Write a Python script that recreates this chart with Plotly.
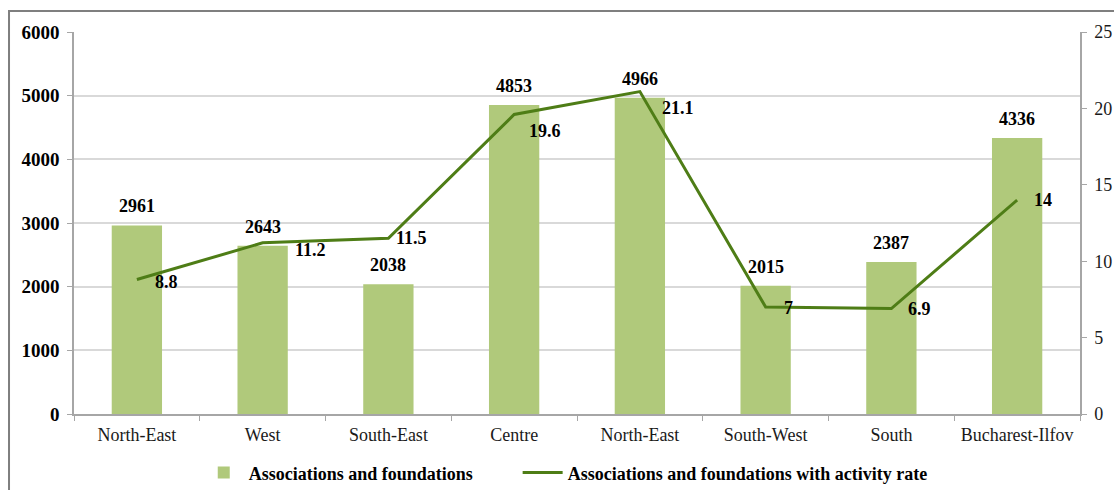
import plotly.graph_objects as go

regions = ["North-East", "West", "South-East", "Centre", "North-East ", "South-West", "South", "Bucharest-Ilfov"]
tick_labels = ["North-East", "West", "South-East", "Centre", "North-East", "South-West", "South", "Bucharest-Ilfov"]
associations = [2961, 2643, 2038, 4853, 4966, 2015, 2387, 4336]
activity_rate = [8.8, 11.2, 11.5, 19.6, 21.1, 7, 6.9, 14]
rate_labels = ["8.8", "11.2", "11.5", "19.6", "21.1", "7", "6.9", "14"]
# label offsets (px) for the rate labels, matching the reference placement
rate_xshift = [16, 30, 6, 13, 20, 16, 15, 15]
rate_yshift = [-2, -7, 0, -16, -16, -1, 0, 0]

FONT = "Liberation Serif"
BAR = "#B0C97B"
LINE = "#4E7D16"
GRID = "#D9D9D9"
AXIS = "#A6A6A6"
LABEL_FONT = dict(family=FONT, size=18, color="black", weight="bold")

fig = go.Figure()
fig.add_trace(go.Bar(
    x=regions, y=associations, name="Associations and foundations",
    marker=dict(color=BAR, line=dict(width=0)),
    legend="legend",
))
fig.add_trace(go.Scatter(
    x=regions, y=activity_rate, yaxis="y2", mode="lines",
    name="Associations and foundations with activity rate",
    line=dict(color=LINE, width=3),
    cliponaxis=False, legend="legend2",
))

for r, v in zip(regions, associations):
    fig.add_annotation(x=r, y=v, xref="x", yref="y", text=str(v), showarrow=False,
                       xanchor="center", yanchor="bottom", yshift=7, font=LABEL_FONT)
for r, v, t, dx, dy in zip(regions, activity_rate, rate_labels, rate_xshift, rate_yshift):
    fig.add_annotation(x=r, y=v, xref="x", yref="y2", text=t, showarrow=False,
                       xanchor="left", yanchor="middle", xshift=dx, yshift=dy, font=LABEL_FONT)

legend_common = dict(orientation="h", y=-0.154, yanchor="middle", xanchor="left",
                     font=dict(family=FONT, size=18, color="black", weight="bold"),
                     itemwidth=40, bgcolor="rgba(0,0,0,0)")

fig.update_layout(
    width=1114, height=490,
    margin=dict(l=74, r=34, t=32, b=76, autoexpand=False),
    paper_bgcolor="white", plot_bgcolor="white",
    font=dict(family=FONT, color="black"),
    bargap=0.6,
    showlegend=True,
    legend=dict(x=0.124, **legend_common),
    legend2=dict(x=0.441, **legend_common),
    xaxis=dict(type="category", tickmode="array", tickvals=regions, ticktext=tick_labels,
               showline=True, linecolor=AXIS, linewidth=1.5,
               ticks="outside", tickson="boundaries", ticklen=5, tickcolor=AXIS,
               ticklabelstandoff=4,
               tickfont=dict(family=FONT, size=18, color="#1a1a1a"),
               showgrid=False),
    yaxis=dict(range=[0, 6000], dtick=1000, showgrid=True, gridcolor=GRID, gridwidth=1.5,
               showline=True, linecolor=AXIS, linewidth=1.5,
               ticks="outside", ticklen=5, tickcolor=AXIS,
               ticklabelstandoff=4,
               tickfont=dict(family=FONT, size=19, color="black", weight="bold"),
               zeroline=False),
    yaxis2=dict(range=[0, 25], dtick=5, overlaying="y", side="right", showgrid=False,
                showline=True, linecolor=AXIS, linewidth=1.5,
                ticks="outside", ticklen=5, tickcolor=AXIS,
                ticklabelstandoff=4,
                tickfont=dict(family=FONT, size=18, color="#1a1a1a"),
                zeroline=False),
)

fig.add_shape(type="rect", xref="paper", yref="paper",
              x0=-0.0646, x1=1.05, y0=-0.25, y1=1.0547,
              line=dict(color="#7F7F7F", width=2), layer="below")

fig.write_html("out.html", config={"displayModeBar": False},
               post_script="document.body.style.margin='0';")
